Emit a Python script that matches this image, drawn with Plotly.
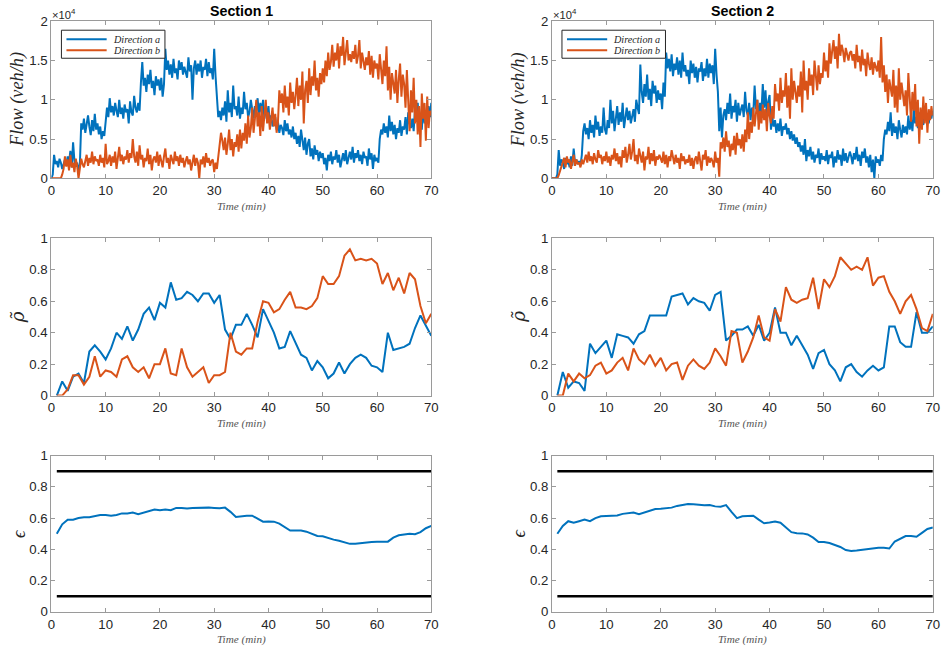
import numpy as np
import plotly.graph_objects as go
from plotly.subplots import make_subplots

# ---------------------------------------------------------------- data
FLOW_STEP_MIN = 0.25          # flow samples every 15 s
FLOW_UNIT = 100.0             # flow values below are stored in 100 veh/h

# Section 1, direction a (blue)
flow_s1_a = [
    0, 5, 30, 18, 22, 14, 25, 20, 12, 18, 24, 16, 28, 20, 35, 14, 46, 22, 15, 20,
    10, 18, 70, 62, 76, 58, 72, 80, 66, 55, 74, 60, 82, 62, 70, 56, 66, 50, 60, 54,
    72, 90, 78, 102, 84, 92, 80, 96, 86, 78, 100, 82, 90, 76, 94, 84, 88, 70, 98, 84,
    80, 105, 90, 84, 96, 86, 122, 148, 118, 128, 110, 132, 120, 138, 115, 124, 106, 130, 118, 126,
    112, 128, 104, 120, 165, 138, 150, 132, 145, 128, 152, 134, 140, 126, 150, 138, 148, 132, 142, 136,
    128, 154, 136, 144, 100, 140, 150, 132, 146, 136, 150, 128, 142, 138, 152, 130, 148, 134, 140, 126,
    165, 130, 100, 78, 86, 74, 90, 80, 98, 72, 112, 84, 96, 78, 118, 88, 92, 80, 104, 76,
    90, 82, 110, 88, 96, 78, 84, 100, 88, 76, 92, 86, 102, 80, 96, 84, 100, 76, 88, 82,
    92, 70, 80, 66, 74, 78, 62, 72, 58, 68, 64, 55, 74, 60, 70, 56, 62, 52, 66, 50,
    58, 44, 54, 40, 62, 46, 36, 52, 30, 44, 50, 28, 38, 24, 42, 30, 36, 22, 34, 26,
    32, 18, 26, 10, 30, 22, 34, 18, 28, 24, 36, 20, 30, 14, 26, 32, 22, 36, 18, 28,
    34, 24, 40, 20, 32, 26, 36, 22, 30, 18, 34, 26, 28, 16, 38, 24, 32, 12, 30, 22,
    26, 20, 50, 62, 56, 70, 58, 66, 52, 80, 60, 72, 56, 68, 50, 64, 58, 74, 54, 66,
    62, 78, 56, 84, 70, 64, 76, 60, 88, 72, 96, 66, 80, 62, 90, 70, 84, 74, 92, 78,
    96,
]

# Section 1, direction b (orange)
flow_s1_b = [
    0, 0, 0, 0, 0, 0, 0, 0, 5, 12, 28, 15, 24, 10, 30, 14, 20, 8, 25, 16,
    0, 12, 25, 18, 14, 22, 30, 16, 26, 20, 34, 18, 28, 22, 24, 16, 30, 20, 26, 14,
    44, 18, 22, 30, 16, 28, 20, 34, 12, 26, 40, 22, 30, 18, 28, 24, 36, 20, 32, 26,
    50, 28, 20, 34, 16, 42, 24, 30, 14, 26, 22, 38, 18, 30, 10, 24, 28, 20, 34, 16,
    30, 22, 14, 28, 38, 20, 26, 12, 30, 24, 18, 34, 22, 28, 16, 30, 20, 26, 14, 22,
    28, 18, 24, 10, 22, 30, 16, 26, 20, 0, 24, 18, 28, 14, 32, 20, 26, 16, 22, 24,
    8, 20, 12, 26, 40, 58, 48, 36, 52, 30, 44, 62, 36, 50, 28, 46, 40, 56, 34, 62,
    38, 58, 48, 70, 44, 80, 52, 64, 90, 58, 76, 100, 66, 84, 54, 92, 60, 80, 100, 70,
    84, 62, 78, 90, 66, 82, 58, 72, 112, 96, 108, 84, 118, 90, 104, 80, 122, 96, 110, 88,
    106, 128, 92, 118, 100, 136, 70, 112, 124, 96, 140, 106, 130, 118, 150, 112, 128, 104, 134, 120,
    140, 122, 150, 130, 160, 138, 148, 170, 142, 160, 150, 172, 140, 168, 156, 180, 144, 166, 176, 150,
    158, 148, 162, 152, 170, 146, 156, 176, 140, 160, 150, 138, 154, 144, 162, 132, 156, 128, 150, 140,
    146, 126, 158, 138, 120, 150, 130, 168, 112, 142, 100, 134, 122, 108, 138, 96, 126, 146, 104, 132,
    120, 90, 138, 106, 60, 112, 84, 128, 70, 100, 56, 92, 40, 108, 76, 96, 48, 104, 64, 86,
    80,
]

# Section 2, direction a (blue)
flow_s2_a = [
    0, 0, 0, 0, 5, 36, 16, 24, 20, 12, 26, 18, 22, 14, 28, 16, 38, 20, 24, 18,
    22, 16, 30, 60, 70, 56, 64, 50, 74, 58, 68, 52, 80, 62, 72, 54, 66, 58, 90, 62,
    56, 74, 64, 100, 70, 86, 60, 78, 92, 68, 84, 72, 96, 64, 80, 90, 74, 86, 70, 82,
    88, 72, 100, 90, 82, 145, 110, 96, 120, 104, 132, 100, 114, 92, 124, 108, 118, 96, 112, 100,
    108, 88, 122, 104, 160, 140, 152, 136, 158, 130, 146, 138, 154, 132, 150, 128, 160, 136, 144, 130,
    138, 120, 150, 134, 146, 128, 142, 122, 140, 136, 148, 124, 140, 130, 152, 128, 146, 134, 144, 120,
    165, 132, 110, 60, 90, 52, 80, 88, 74, 96, 82, 108, 76, 92, 84, 100, 72, 96, 80, 88,
    94, 78, 110, 86, 80, 96, 74, 90, 82, 118, 88, 100, 74, 96, 84, 120, 90, 112, 80, 98,
    106, 62, 78, 66, 74, 58, 70, 60, 76, 54, 66, 62, 70, 56, 64, 50, 60, 48, 56, 44,
    52, 40, 46, 34, 42, 30, 50, 22, 36, 28, 40, 24, 34, 20, 30, 26, 38, 18, 32, 24,
    28, 22, 36, 18, 30, 26, 34, 14, 28, 20, 36, 24, 30, 16, 38, 22, 32, 20, 26, 34,
    28, 18, 32, 24, 40, 22, 30, 16, 34, 26, 38, 20, 28, 14, 30, 8, 24, 0, 28, 20,
    24, 16, 30, 22, 50, 62, 56, 72, 60, 84, 54, 70, 58, 66, 50, 74, 62, 52, 68, 58,
    66, 56, 80, 62, 74, 60, 88, 70, 78, 64, 84, 72, 76, 68, 90, 74, 80, 70, 84, 76,
    86,
]

# Section 2, direction b (orange)
flow_s2_b = [
    0, 0, 0, 0, 0, 4, 10, 16, 20, 26, 14, 28, 20, 24, 12, 22, 30, 16, 24, 18,
    20, 14, 24, 18, 26, 30, 20, 34, 22, 28, 18, 32, 24, 20, 36, 26, 30, 18, 28, 22,
    34, 20, 28, 16, 30, 24, 38, 22, 32, 18, 28, 14, 36, 26, 40, 20, 30, 44, 24, 34,
    50, 22, 30, 18, 38, 26, 20, 34, 10, 28, 24, 40, 18, 32, 22, 36, 16, 28, 24, 30,
    26, 20, 34, 18, 30, 14, 28, 22, 36, 24, 18, 30, 20, 26, 12, 32, 22, 28, 18, 24,
    20, 30, 16, 26, 12, 24, 28, 18, 34, 22, 10, 30, 24, 36, 16, 28, 20, 26, 22, 14,
    34, 20, 26, 2, 46, 38, 52, 34, 60, 40, 48, 28, 44, 36, 54, 30, 58, 42, 50, 38,
    56, 34, 62, 46, 84, 50, 72, 58, 90, 66, 80, 100, 62, 86, 70, 94, 74, 88, 60, 96,
    80, 70, 92, 76, 120, 98, 108, 86, 128, 96, 112, 104, 134, 90, 118, 76, 140, 100, 124, 110,
    96, 118, 104, 136, 84, 150, 112, 124, 100, 140, 118, 132, 106, 150, 126, 112, 144, 120, 134, 128,
    160, 136, 150, 128, 172, 146, 162, 176, 152, 168, 140, 184, 156, 170, 162, 148, 166, 158, 150, 160,
    162, 150, 158, 140, 170, 148, 156, 136, 164, 144, 152, 130, 160, 146, 138, 154, 132, 148, 140, 136,
    150, 128, 180, 122, 144, 110, 132, 96, 126, 112, 104, 138, 90, 118, 84, 140, 100, 122, 108, 92,
    112, 80, 134, 96, 72, 110, 86, 120, 66, 100, 44, 90, 62, 104, 70, 96, 58, 88, 74, 92,
    80,
]

# Per-minute normalised densities (minutes 1..70)
minutes = list(range(1, 71))

rho_s1_a = [0, .09, .03, .12, .14, .08, .28, .32, .28, .23, .30, .40, .36, .44, .35, .42, .52, .56, .48, .59,
            .56, .72, .61, .62, .66, .64, .60, .65, .65, .59, .64, .42, .36, .45, .45, .52, .45, .37, .55, .48,
            .40, .30, .31, .41, .33, .26, .24, .16, .22, .18, .11, .14, .21, .14, .20, .24, .26, .24, .19, .18,
            .15, .40, .29, .30, .31, .33, .43, .51, .44, .38]
rho_s1_b = [0, 0, .04, .13, .13, .07, .12, .25, .12, .16, .15, .12, .23, .25, .18, .15, .18, .11, .20, .20,
            .30, .14, .13, .30, .18, .12, .15, .18, .08, .13, .13, .15, .40, .28, .26, .30, .30, .47, .60, .59,
            .53, .55, .61, .66, .56, .56, .55, .57, .62, .76, .71, .71, .76, .89, .93, .86, .87, .86, .87, .84,
            .71, .78, .67, .75, .65, .78, .74, .57, .46, .52]
rho_s2_a = [0, .15, .05, .09, .08, .03, .33, .27, .31, .35, .24, .39, .38, .37, .33, .39, .41, .51, .51, .51,
            .51, .63, .64, .65, .58, .62, .60, .59, .54, .64, .66, .35, .38, .42, .42, .44, .38, .45, .35, .40,
            .56, .40, .40, .32, .38, .32, .26, .17, .27, .29, .20, .16, .09, .18, .20, .15, .12, .16, .19, .16,
            .18, .44, .44, .34, .31, .31, .53, .40, .40, .44]
rho_s2_b = [0, 0, .14, .09, .14, .11, .13, .19, .21, .14, .16, .21, .24, .16, .30, .23, .20, .26, .19, .24,
            .16, .20, .21, .10, .19, .23, .19, .17, .21, .30, .25, .19, .41, .40, .21, .28, .37, .51, .37, .35,
            .55, .47, .69, .61, .59, .61, .62, .75, .55, .74, .69, .76, .88, .84, .80, .82, .80, .88, .70, .75,
            .76, .66, .60, .52, .60, .64, .55, .43, .41, .52]

# Per-minute epsilon and its admissible bounds
eps_s1 = [.50, .56, .59, .59, .60, .605, .605, .615, .62, .62, .615, .62, .63, .63, .635, .625, .635, .645, .655, .65,
          .655, .65, .665, .665, .662, .665, .667, .665, .667, .665, .663, .667, .64, .607, .613, .615, .615, .598, .577, .578,
          .577, .565, .54, .52, .52, .52, .513, .50, .485, .483, .47, .462, .455, .445, .435, .435, .44, .445, .447, .448,
          .447, .449, .475, .49, .495, .50, .497, .51, .535, .55]
eps_s2 = [.50, .55, .58, .57, .58, .59, .58, .60, .612, .615, .615, .617, .627, .63, .635, .625, .635, .647, .658, .66,
          .663, .667, .678, .685, .69, .688, .683, .682, .683, .675, .673, .683, .64, .60, .612, .615, .615, .59, .567, .572,
          .578, .57, .537, .51, .503, .502, .495, .475, .447, .447, .44, .43, .415, .395, .39, .393, .398, .40, .405, .41,
          .41, .405, .45, .47, .485, .485, .48, .505, .53, .54]
eps_bounds = [0.1, 0.9]
eps_span = [1, 70]

section_titles = ["Section 1", "Section 2"]
direction_names = ["Direction a", "Direction b"]
x_ticks = [0, 10, 20, 30, 40, 50, 60, 70]
flow_ticks = [0, 0.5, 1, 1.5, 2]
flow_tick_text = ["0", "0.5", "1", "1.5", "2"]
unit_ticks = [0, 0.2, 0.4, 0.6, 0.8, 1]
unit_tick_text = ["0", "0.2", "0.4", "0.6", "0.8", "1"]

# ---------------------------------------------------------------- geometry
W, H = 946, 653                    # figure size
BODY_MARGIN = 8                    # default page margin around the figure
SX = W / (W + 2 * BODY_MARGIN)     # page -> view scale
SY = H / (H + 2 * BODY_MARGIN)
FS = 1 / SX                        # font compensation for that scale

col_px = [(55, 433), (553, 932)]
row_px = [(22, 179), (239, 396), (456, 612)]


def px_x(p):
    return (p / SX - BODY_MARGIN) / W


def px_y(p):
    return 1 - (p / SY - BODY_MARGIN) / H


# ---------------------------------------------------------------- style
BLUE = "#0072BD"
ORANGE = "#D95319"
AXIS_GREY = "#9a9a9a"
TEXT = "#262626"
SANS = "Liberation Sans, Arial, sans-serif"
SERIF = "Liberation Serif, DejaVu Serif, serif"

fig = make_subplots(rows=3, cols=2)

flow_sets = [(flow_s1_a, flow_s1_b), (flow_s2_a, flow_s2_b)]
rho_sets = [(rho_s1_a, rho_s1_b), (rho_s2_a, rho_s2_b)]
eps_sets = [eps_s1, eps_s2]
series_colors = [BLUE, ORANGE]

for c in range(2):
    col = c + 1
    t_flow = np.arange(len(flow_sets[c][0])) * FLOW_STEP_MIN
    for vals, color, name in zip(flow_sets[c], series_colors, direction_names):
        y = np.array(vals, dtype=float) * FLOW_UNIT / 1e4
        fig.add_trace(go.Scatter(x=t_flow, y=y, mode="lines", name=name,
                                 line=dict(color=color, width=2), showlegend=False),
                      row=1, col=col)
    for vals, color, name in zip(rho_sets[c], series_colors, direction_names):
        fig.add_trace(go.Scatter(x=minutes, y=vals, mode="lines", name=name,
                                 line=dict(color=color, width=2), showlegend=False),
                      row=2, col=col)
    for b in eps_bounds:
        fig.add_trace(go.Scatter(x=eps_span, y=[b, b], mode="lines",
                                 line=dict(color="black", width=2.5), showlegend=False),
                      row=3, col=col)
    fig.add_trace(go.Scatter(x=minutes, y=eps_sets[c], mode="lines",
                             line=dict(color=BLUE, width=2), showlegend=False),
                  row=3, col=col)

axis_common = dict(showgrid=False, zeroline=False, showline=True, mirror="ticks",
                   linecolor=AXIS_GREY, linewidth=1, ticks="inside", ticklen=4,
                   tickcolor=AXIS_GREY, tickfont=dict(family=SANS, size=13 * FS, color=TEXT))

annotations = []
shapes = []
ylabels = [("<i>Flow (veh/h)</i>", SERIF), ("<i>ρ̃</i>", "DejaVu Serif, serif"), ("<i>ϵ</i>", SERIF)]
for r in range(3):
    for c in range(2):
        idx = r * 2 + c + 1
        sfx = "" if idx == 1 else str(idx)
        x0, x1 = col_px[c]
        y0, y1 = row_px[r]
        fig.layout["xaxis" + sfx].update(domain=[px_x(x0), px_x(x1)], range=[0, 70],
                                         tickvals=x_ticks, **axis_common)
        if r == 0:
            yt = dict(range=[0, 2], tickvals=flow_ticks, ticktext=flow_tick_text)
        else:
            yt = dict(range=[0, 1], tickvals=unit_ticks, ticktext=unit_tick_text)
        fig.layout["yaxis" + sfx].update(domain=[px_y(y1), px_y(y0)], **yt, **axis_common)

        # x-axis label
        annotations.append(dict(text="<i>Time (min)</i>", x=px_x((x0 + x1) / 2), y=px_y(y1 + 28),
                                xref="paper", yref="paper", showarrow=False,
                                xanchor="center", yanchor="middle",
                                font=dict(family=SERIF, size=11 * FS, color="#555555")))
        # y-axis label
        text, fam = ylabels[r]
        annotations.append(dict(text=text, x=px_x(x0 - 33), y=px_y((y0 + y1) / 2),
                                xref="paper", yref="paper", showarrow=False, textangle=-90,
                                xanchor="center", yanchor="middle",
                                font=dict(family=fam, size=18 * FS, color=TEXT)))

for c in range(2):
    x0, x1 = col_px[c]
    y0 = row_px[0][0]
    annotations.append(dict(text=f"<b>{section_titles[c]}</b>", x=px_x((x0 + x1) / 2), y=px_y(12),
                            xref="paper", yref="paper", showarrow=False,
                            xanchor="center", yanchor="middle",
                            font=dict(family=SANS, size=14 * FS, color="black")))
    annotations.append(dict(text="×10<sup>4</sup>", x=px_x(x0 - 1), y=px_y(15),
                            xref="paper", yref="paper", showarrow=False,
                            xanchor="left", yanchor="middle",
                            font=dict(family=SANS, size=11 * FS, color=TEXT)))
    # legend box with line samples
    lx0, lx1, ly0, ly1 = x0 + 10, x0 + 113, y0 + 9, y0 + 37
    shapes.append(dict(type="rect", xref="paper", yref="paper",
                       x0=px_x(lx0), x1=px_x(lx1), y0=px_y(ly1), y1=px_y(ly0),
                       line=dict(color=TEXT, width=1), fillcolor="white", layer="above"))
    for k, (name, color) in enumerate(zip(direction_names, series_colors)):
        yy = ly0 + 9 + 11 * k
        shapes.append(dict(type="line", xref="paper", yref="paper",
                           x0=px_x(lx0 + 5), x1=px_x(lx0 + 45), y0=px_y(yy), y1=px_y(yy),
                           line=dict(color=color, width=2), layer="above"))
        annotations.append(dict(text=f"<i>{name}</i>", x=px_x(lx0 + 49), y=px_y(yy),
                                xref="paper", yref="paper", showarrow=False,
                                xanchor="left", yanchor="middle",
                                font=dict(family=SERIF, size=10 * FS, color=TEXT)))

fig.update_layout(
    width=W, height=H, margin=dict(l=0, r=0, t=0, b=0),
    paper_bgcolor="white", plot_bgcolor="white",
    annotations=annotations, shapes=shapes, showlegend=False,
)

fig.write_html("out.html")
